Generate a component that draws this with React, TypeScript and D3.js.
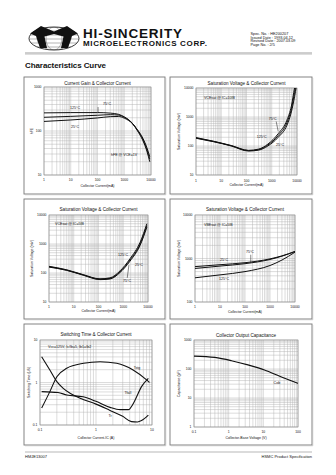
import React from "react";
import * as d3 from "d3";

const FONT = "'Liberation Sans', Arial, Helvetica, sans-serif";

// ---------- Panel 1: hFE vs IC ----------
const hfeIc = [1, 10, 100, 300, 600, 1000, 2000, 3000, 5000, 7000, 9000];
const hfe125 = [258, 262, 262, 255, 240, 210, 150, 105, 60, 35, 20];
const hfe75 = [205, 215, 228, 235, 230, 205, 150, 108, 64, 38, 23];
const hfe25 = [165, 178, 198, 212, 214, 196, 148, 110, 68, 42, 26];

// ---------- Panel 2: VCE(sat) ----------
const vceAIc = [1, 5, 25, 120, 300, 700, 1800, 4000, 6000, 8000, 9500];
const vceA25 = [185, 140, 100, 67, 72, 100, 200, 520, 1500, 5000, 12000];
const vceA75 = [190, 143, 102, 69, 75, 108, 230, 640, 1900, 7000, 15000];
const vceA125 = [195, 146, 104, 71, 78, 116, 265, 780, 2400, 10000, 20000];

// ---------- Panel 3: VCE(sat) ----------
const vceBIc = [1, 5, 24, 115, 290, 740, 1870, 4800, 9000];
const vceB25 = [160, 124, 84, 59, 62, 104, 255, 900, 3800];
const vceB75 = [165, 127, 86, 61, 65, 110, 280, 1000, 4300];
const vceB125 = [170, 130, 88, 63, 68, 118, 310, 1150, 5000];

// ---------- Panel 4: VBE(sat) ----------
const vbeIc = [1, 10, 100, 1000, 3000, 10000];
const vbe25 = [650, 720, 800, 980, 1150, 1450];
const vbe75 = [590, 670, 760, 950, 1130, 1450];
const vbe125 = [360, 420, 500, 690, 920, 1400];

// ---------- Panel 5: switching time ----------
const trIc = [0.107, 0.15, 0.2, 0.26, 0.35, 0.59, 1.0, 1.78, 3.0, 4.3, 5.5, 6.5, 8.6];
const trT = [4.05, 1.97, 1.05, 0.73, 0.55, 0.4, 0.31, 0.22, 0.16, 0.12, 0.118, 0.127, 0.17];
const tfIc = [0.107, 0.21, 0.3, 0.59, 1.0, 1.78, 2.7, 3.8, 4.5, 5.0, 6.5, 8.6];
const tfT = [0.61, 0.58, 0.51, 0.46, 0.36, 0.26, 0.23, 0.23, 0.3, 0.39, 0.8, 1.25];
const tsIc = [0.107, 0.15, 0.2, 0.3, 0.6, 1.18, 2.34, 4.6, 8.0, 9.0];
const tsT = [0.25, 0.61, 1.37, 2.16, 2.83, 3.09, 2.83, 1.97, 1.15, 1.0];

// ---------- Panel 6: Cob ----------
const cobV = [0.1, 0.4, 1.2, 3.6, 10.8, 32, 100];
const cobC = [280, 250, 193, 138, 92, 54, 32];

// ---------- tick labels ----------
const icTicks = [1, 10, 100, 1000, 10000];
const icTickLabels = ["1", "10", "100", "1000", "10000"];
const hfeTicks = [10, 100, 1000];
const hfeTickLabels = ["10", "100", "1000"];
const vsatTicks = [10, 100, 1000, 10000];
const vsatTickLabels = ["10", "100", "1000", "10000"];
const vbeTicks = [100, 1000, 10000];
const vbeTickLabels = ["100", "1000", "10000"];
const swXTicks = [0.1, 1, 10];
const swXTickLabels = ["0.1", "1", "10"];
const swYTicks = [0.1, 1, 10];
const swYTickLabels = ["0.1", "1", "10"];
const cobXTicks = [0.1, 1, 10, 100];
const cobXTickLabels = ["0.1", "1", "10", "100"];
const cobYTicks = [1, 10, 100, 1000];
const cobYTickLabels = ["1", "10", "100", "1000"];

const specLines = [
  "Spec. No. : HE200207",
  "Issued Date : 1993.04.12",
  "Revised Date : 2007.03.09",
  "Page No. : 2/5",
];

type Rect = { x0: number; x1: number; y0: number; y1: number };
type Series = { xs: number[]; ys: number[]; w?: number };
type Lbl = { text: string; x: number; y: number; anchor?: "start" | "middle" | "end" };
type Seg = { x1: number; y1: number; x2: number; y2: number };

type Cfg = {
  id: string;
  box: Rect;
  plot: Rect;
  xDomain: [number, number];
  yDomain: [number, number];
  xTicks: number[];
  xTickLabels: string[];
  yTicks: number[];
  yTickLabels: string[];
  title: string;
  titleY: number;
  xTitle: string;
  xTitleY: number;
  xTickY: number;
  yTitle: string;
  yTitleX: number;
  series: Series[];
  labels: Lbl[];
  segs?: Seg[];
};

function logGrid(domain: [number, number]) {
  const [a, b] = domain;
  const out: number[] = [];
  for (let e = Math.floor(Math.log10(a)); e <= Math.ceil(Math.log10(b)); e++) {
    for (let k = 1; k < 10; k++) {
      const v = k * Math.pow(10, e);
      if (v >= a * 0.999 && v <= b * 1.001) out.push(v);
    }
  }
  return out;
}

function Panel({ c }: { c: Cfg }) {
  const x = d3.scaleLog().domain(c.xDomain).range([c.plot.x0, c.plot.x1]);
  const y = d3.scaleLog().domain(c.yDomain).range([c.plot.y1, c.plot.y0]);
  const line = d3
    .line<[number, number]>()
    .x((d) => x(d[0]))
    .y((d) => y(d[1]))
    .curve(d3.curveMonotoneX);
  const pw = c.plot.x1 - c.plot.x0;
  const ph = c.plot.y1 - c.plot.y0;
  const cx = (c.plot.x0 + c.plot.x1) / 2;
  const cy = (c.plot.y0 + c.plot.y1) / 2;
  return (
    <g>
      <rect x={c.box.x0} y={c.box.y0} width={c.box.x1 - c.box.x0} height={c.box.y1 - c.box.y0}
        fill="#fff" stroke="#777" strokeWidth={0.9} />
      <line x1={c.box.x0 + 1} y1={c.box.y1 + 0.8} x2={c.box.x1 + 0.8} y2={c.box.y1 + 0.8} stroke="#bbb" strokeWidth={0.6} />
      <line x1={c.box.x1 + 0.8} y1={c.box.y0 + 1} x2={c.box.x1 + 0.8} y2={c.box.y1 + 0.8} stroke="#bbb" strokeWidth={0.6} />
      <defs>
        <clipPath id={"clip-" + c.id}>
          <rect x={c.plot.x0} y={c.plot.y0} width={pw} height={ph} />
        </clipPath>
      </defs>
      <rect x={c.plot.x0} y={c.plot.y0} width={pw} height={ph} fill="#fff" />
      {logGrid(c.xDomain).map((v, i) => (
        <line key={"gx" + i} x1={x(v)} x2={x(v)} y1={c.plot.y0} y2={c.plot.y1} stroke="#b0b0b0" strokeWidth={0.45} />
      ))}
      {logGrid(c.yDomain).map((v, i) => (
        <line key={"gy" + i} x1={c.plot.x0} x2={c.plot.x1} y1={y(v)} y2={y(v)} stroke="#b0b0b0" strokeWidth={0.45} />
      ))}
      <rect x={c.plot.x0} y={c.plot.y0} width={pw} height={ph} fill="none" stroke="#888" strokeWidth={0.6} />
      <g clipPath={`url(#clip-${c.id})`}>
        {c.series.map((s, i) => (
          <path key={i} d={line(s.xs.map((v, j) => [v, s.ys[j]] as [number, number])) || ""}
            fill="none" stroke="#111" strokeWidth={s.w ?? 1.0} strokeLinejoin="round" />
        ))}
      </g>
      {(c.segs || []).map((s, i) => (
        <line key={"s" + i} x1={x(s.x1)} y1={y(s.y1)} x2={x(s.x2)} y2={y(s.y2)} stroke="#111" strokeWidth={0.5} />
      ))}
      {c.labels.map((l, i) => (
        <text key={"l" + i} x={x(l.x)} y={y(l.y)} dy="0.35em" textAnchor={l.anchor || "middle"}
          fontSize={3.6} fontFamily={FONT} fill="#111">{l.text}</text>
      ))}
      {c.xTicks.map((v, i) => (
        <text key={"xt" + i} x={x(v)} y={c.xTickY} textAnchor="middle" fontSize={3.4} fontFamily={FONT} fill="#111">
          {c.xTickLabels[i]}
        </text>
      ))}
      {c.yTicks.map((v, i) => (
        <text key={"yt" + i} x={c.plot.x0 - 2.5} y={y(v)} dy="0.35em" textAnchor="end" fontSize={3.4} fontFamily={FONT} fill="#111">
          {c.yTickLabels[i]}
        </text>
      ))}
      <text x={cx} y={c.titleY} textAnchor="middle" fontSize={4.6} fontFamily={FONT} fill="#111">{c.title}</text>
      <text x={cx} y={c.xTitleY} textAnchor="middle" fontSize={3.5} fontFamily={FONT} fill="#111">{c.xTitle}</text>
      <text x={c.yTitleX} y={cy} textAnchor="middle" fontSize={3.5} fontFamily={FONT} fill="#111"
        transform={`rotate(-90 ${c.yTitleX} ${cy})`}>{c.yTitle}</text>
    </g>
  );
}

const L: [number, number] = [24, 165];
const R: [number, number] = [170, 312];

const panels: Cfg[] = [
  {
    id: "p1",
    box: { x0: L[0], x1: L[1], y0: 77, y1: 194 },
    plot: { x0: 44, x1: 151, y0: 87, y1: 175 },
    xDomain: [1, 10000], yDomain: [10, 1000],
    xTicks: icTicks, xTickLabels: icTickLabels, yTicks: hfeTicks, yTickLabels: hfeTickLabels,
    title: "Current Gain & Collector Current", titleY: 85.3,
    xTitle: "Collector Current(mA)", xTitleY: 186.5, xTickY: 181.3,
    yTitle: "hFE", yTitleX: 32.5,
    series: [{ xs: hfeIc, ys: hfe125 }, { xs: hfeIc, ys: hfe75 }, { xs: hfeIc, ys: hfe25 }],
    labels: [
      { text: "125°C", x: 14.4, y: 333 },
      { text: "75°C", x: 226, y: 408 },
      { text: "25°C", x: 14.4, y: 123 },
      { text: "hFE @ VCE=1V", x: 320, y: 28.5, anchor: "start" },
    ],
    segs: [{ x1: 105, y1: 350, x2: 105, y2: 258 }],
  },
  {
    id: "p2",
    box: { x0: R[0], x1: R[1], y0: 77, y1: 194 },
    plot: { x0: 196, x1: 297, y0: 88, y1: 175 },
    xDomain: [1, 10000], yDomain: [10, 10000],
    xTicks: icTicks, xTickLabels: icTickLabels, yTicks: vsatTicks, yTickLabels: vsatTickLabels,
    title: "Saturation Voltage & Collector Current", titleY: 85.3,
    xTitle: "Collector Current(mA)", xTitleY: 186, xTickY: 181.8,
    yTitle: "Saturation Voltage (mV)", yTitleX: 180,
    series: [{ xs: vceAIc, ys: vceA25 }, { xs: vceAIc, ys: vceA75 }, { xs: vceAIc, ys: vceA125 }],
    labels: [
      { text: "VCEsat @ IC=10IB", x: 2.07, y: 4560, anchor: "start" },
      { text: "75°C", x: 1090, y: 850 },
      { text: "125°C", x: 400, y: 209 },
      { text: "25°C", x: 2130, y: 108 },
    ],
    segs: [{ x1: 1500, y1: 700, x2: 1800, y2: 320 }],
  },
  {
    id: "p3",
    box: { x0: L[0], x1: L[1], y0: 199, y1: 319 },
    plot: { x0: 49, x1: 148, y0: 215, y1: 302 },
    xDomain: [1, 10000], yDomain: [10, 10000],
    xTicks: icTicks, xTickLabels: icTickLabels, yTicks: vsatTicks, yTickLabels: vsatTickLabels,
    title: "Saturation Voltage & Collector Current", titleY: 211,
    xTitle: "Collector Current(mA)", xTitleY: 312, xTickY: 307.5,
    yTitle: "Saturation Voltage (mV)", yTitleX: 32.5,
    series: [{ xs: vceBIc, ys: vceB25 }, { xs: vceBIc, ys: vceB75 }, { xs: vceBIc, ys: vceB125 }],
    labels: [
      { text: "VCEsat @ IC=5IB", x: 1.75, y: 4900, anchor: "start" },
      { text: "125°C", x: 980, y: 420 },
      { text: "25°C", x: 4300, y: 190 },
      { text: "75°C", x: 1420, y: 53 },
    ],
    segs: [{ x1: 1450, y1: 68, x2: 1700, y2: 190 }],
  },
  {
    id: "p4",
    box: { x0: R[0], x1: R[1], y0: 199, y1: 319 },
    plot: { x0: 195, x1: 295, y0: 215, y1: 302 },
    xDomain: [1, 10000], yDomain: [100, 10000],
    xTicks: icTicks, xTickLabels: icTickLabels, yTicks: vbeTicks, yTickLabels: vbeTickLabels,
    title: "Saturation Voltage & Collector Current", titleY: 211,
    xTitle: "Collector Current(mA)", xTitleY: 312.5, xTickY: 308,
    yTitle: "Saturation Voltage (mV)", yTitleX: 180,
    series: [{ xs: vbeIc, ys: vbe25 }, { xs: vbeIc, ys: vbe75 }, { xs: vbeIc, ys: vbe125 }],
    labels: [
      { text: "VBEsat @ IC=5IB", x: 2.3, y: 5900, anchor: "start" },
      { text: "25°C", x: 14.5, y: 920 },
      { text: "75°C", x: 158, y: 1410 },
      { text: "125°C", x: 14.5, y: 338 },
    ],
    segs: [{ x1: 170, y1: 1220, x2: 170, y2: 800 }],
  },
  {
    id: "p5",
    box: { x0: L[0], x1: L[1], y0: 324, y1: 445 },
    plot: { x0: 40, x1: 152, y0: 340, y1: 425 },
    xDomain: [0.1, 10], yDomain: [0.1, 10],
    xTicks: swXTicks, xTickLabels: swXTickLabels, yTicks: swYTicks, yTickLabels: swYTickLabels,
    title: "Switching Time & Collector Current", titleY: 336,
    xTitle: "Collector Current-IC (A)", xTitleY: 438.5, xTickY: 431.3,
    yTitle: "Switching Time (uS)", yTitleX: 30,
    series: [{ xs: trIc, ys: trT, w: 1.1 }, { xs: tfIc, ys: tfT, w: 1.1 }, { xs: tsIc, ys: tsT, w: 1.1 }],
    labels: [
      { text: "Vcc=125V, Ic/Ib=5, Ib1=Ib2", x: 0.139, y: 6.8, anchor: "start" },
      { text: "Tstg", x: 5.4, y: 2.19 },
      { text: "Tfall", x: 3.7, y: 0.57 },
      { text: "Tr", x: 1.78, y: 0.163 },
    ],
  },
  {
    id: "p6",
    box: { x0: R[0], x1: R[1], y0: 324, y1: 445 },
    plot: { x0: 194, x1: 298, y0: 340, y1: 427 },
    xDomain: [0.1, 100], yDomain: [1, 1000],
    xTicks: cobXTicks, xTickLabels: cobXTickLabels, yTicks: cobYTicks, yTickLabels: cobYTickLabels,
    title: "Collector Output Capacitance", titleY: 336.5,
    xTitle: "Collector-Base Voltage (V)", xTitleY: 439, xTickY: 433.3,
    yTitle: "Capacitance (pF)", yTitleX: 180,
    series: [{ xs: cobV, ys: cobC, w: 1.2 }],
    labels: [{ text: "Cob", x: 24.6, y: 33 }],
  },
];

function Logo() {
  return (
    <g>
      <ellipse cx={54} cy={38.5} rx={25} ry={11.5} fill="none" stroke="#222" strokeWidth={0.9} />
      <defs>
        <clipPath id="logo-clip">
          <ellipse cx={54} cy={38.5} rx={25} ry={11.5} />
        </clipPath>
      </defs>
      <g clipPath="url(#logo-clip)" stroke="#444" strokeWidth={0.4}>
        {[31, 35, 39, 43, 47].map((yy) => (
          <line key={yy} x1={28} x2={80} y1={yy} y2={yy} />
        ))}
        <ellipse cx={54} cy={38.5} rx={8} ry={11.5} fill="none" />
        <ellipse cx={54} cy={38.5} rx={17} ry={11.5} fill="none" />
      </g>
      <path
        d="M30,33.5 L41,26 L54,31.5 L67,26 L78,33.5 L72,36 L68,48 L61,48 L63.5,36.5 L54,34 L44.5,36.5 L47,48 L40,48 L36,36 Z"
        fill="#111"
      />
    </g>
  );
}

export default function App() {
  return (
    <svg width={336} height={475} viewBox="0 0 336 475"
      style={{ position: "absolute", left: 0, top: 0, background: "#fff" }}>
      <rect x={0} y={0} width={336} height={475} fill="#fff" />
      <Logo />
      <text x={83} y={37.5} fontSize={13.5} fontWeight="bold" fontFamily={FONT} fill="#111" textLength={99}>
        HI-SINCERITY
      </text>
      <text x={83} y={46} fontSize={8} fontWeight="bold" fontFamily={FONT} fill="#111" textLength={124}>
        MICROELECTRONICS CORP.
      </text>
      {specLines.map((s, i) => (
        <text key={i} x={250.5} y={35 + i * 3.7} fontSize={3.8} fontFamily={FONT} fill="#111">{s}</text>
      ))}
      <line x1={25} x2={312} y1={53} y2={53} stroke="#777" strokeWidth={0.7} />
      <line x1={25} x2={312} y1={54.3} y2={54.3} stroke="#bbb" strokeWidth={0.6} />
      <text x={25} y={68.3} fontSize={8} fontWeight="bold" fontFamily={FONT} fill="#111" textLength={81}>
        Characteristics Curve
      </text>
      {panels.map((p) => (
        <Panel key={p.id} c={p} />
      ))}
      <line x1={25} x2={312} y1={452} y2={452} stroke="#888" strokeWidth={0.6} />
      <text x={25} y={458} fontSize={4} fontFamily={FONT} fill="#111">HMJE13007</text>
      <text x={312} y={458} fontSize={4} fontFamily={FONT} fill="#111" textAnchor="end">HSMC Product Specification</text>
    </svg>
  );
}
